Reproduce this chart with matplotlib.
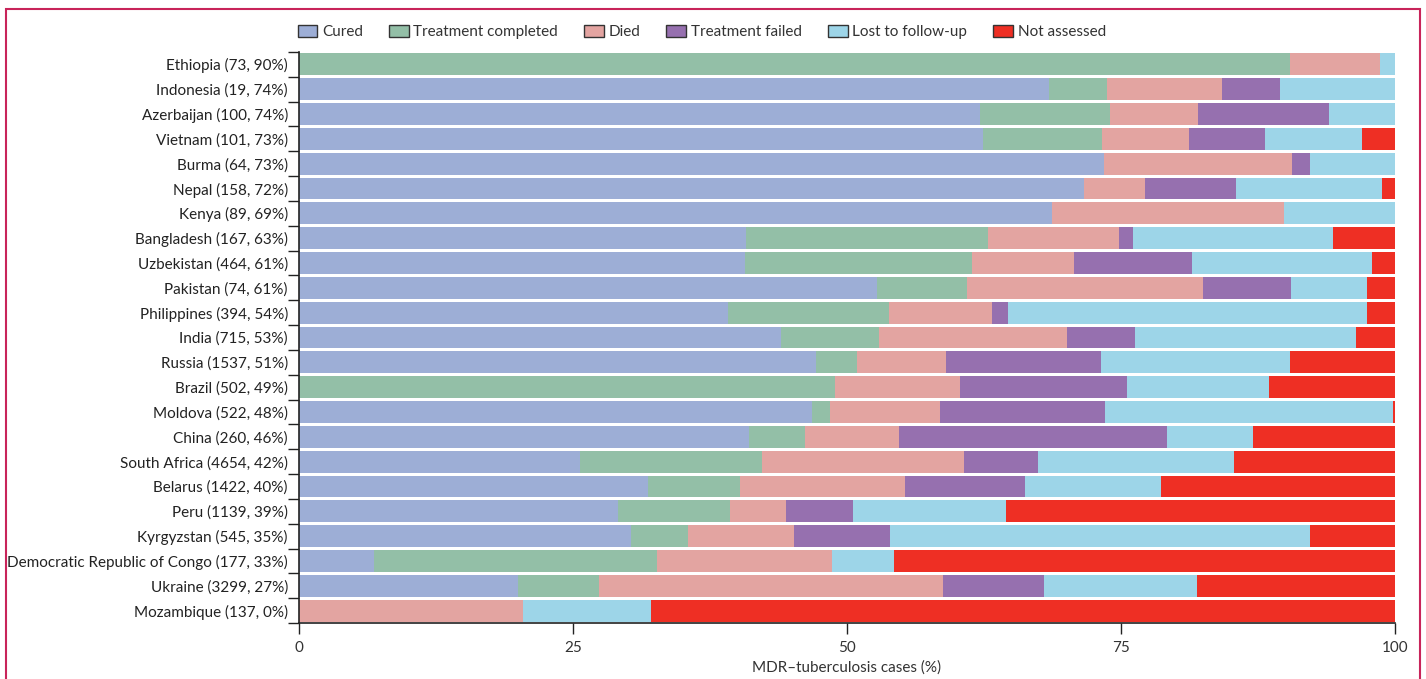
import matplotlib
matplotlib.use("Agg")
import matplotlib.pyplot as plt
from matplotlib.patches import Rectangle
import numpy as np

plt.rcParams['font.family'] = ['Lato', 'DejaVu Sans']

countries = ["Ethiopia (73, 90%)", "Indonesia (19, 74%)", "Azerbaijan (100, 74%)", "Vietnam (101, 73%)",
             "Burma (64, 73%)", "Nepal (158, 72%)", "Kenya (89, 69%)", "Bangladesh (167, 63%)",
             "Uzbekistan (464, 61%)", "Pakistan (74, 61%)", "Philippines (394, 54%)", "India (715, 53%)",
             "Russia (1537, 51%)", "Brazil (502, 49%)", "Moldova (522, 48%)", "China (260, 46%)",
             "South Africa (4654, 42%)", "Belarus (1422, 40%)", "Peru (1139, 39%)", "Kyrgyzstan (545, 35%)",
             "Democratic Republic of Congo (177, 33%)", "Ukraine (3299, 27%)", "Mozambique (137, 0%)"]

# cumulative boundaries: cured, +completed, +died, +failed, +lost, (rest = not assessed)
cum_cured     = [0.0, 68.4, 62.1, 62.4, 73.4, 71.6, 68.7, 40.8, 40.7, 52.7, 39.1, 44.0, 47.2, 0.0, 46.8, 41.1, 25.6, 31.8, 29.1, 30.3, 6.8, 20.0, 0.0]
cum_completed = [90.4, 73.7, 74.0, 73.3, 73.4, 71.6, 68.7, 62.9, 61.4, 60.9, 53.8, 52.9, 50.9, 48.9, 48.4, 46.2, 42.2, 40.2, 39.3, 35.5, 32.7, 27.4, 0.0]
cum_died      = [98.6, 84.2, 82.0, 81.2, 90.6, 77.2, 89.9, 74.8, 70.7, 82.5, 63.2, 70.1, 59.0, 60.3, 58.5, 54.7, 60.7, 55.3, 44.4, 45.2, 48.6, 58.8, 20.4]
cum_failed    = [98.6, 89.5, 94.0, 88.1, 92.2, 85.5, 89.9, 76.1, 81.5, 90.5, 64.7, 76.3, 73.2, 75.5, 73.5, 79.2, 67.4, 66.2, 50.5, 53.9, 48.6, 68.0, 20.4]
cum_lost      = [100.0, 100.0, 100.0, 97.0, 100.0, 98.8, 100.0, 94.3, 97.9, 97.4, 97.4, 96.4, 90.4, 88.5, 99.8, 87.0, 85.3, 78.6, 64.5, 92.2, 54.3, 81.9, 32.1]

cured = np.array(cum_cured)
completed = np.array(cum_completed) - np.array(cum_cured)
died = np.array(cum_died) - np.array(cum_completed)
failed = np.array(cum_failed) - np.array(cum_died)
lost = np.array(cum_lost) - np.array(cum_failed)
notassessed = 100 - np.array(cum_lost)

series = [("Cured", cured, "#9daed6"),
          ("Treatment completed", completed, "#93bfa7"),
          ("Died", died, "#e3a4a1"),
          ("Treatment failed", failed, "#9670af"),
          ("Lost to follow-up", lost, "#9dd5e8"),
          ("Not assessed", notassessed, "#ee2f24")]

fig = plt.figure(figsize=(14.26, 6.79), dpi=100)
ax = fig.add_axes([0.2097, 1 - 623 / 679, 0.7686, 571 / 679])

y = np.arange(len(countries))
left = np.zeros(len(countries))
for name, vals, col in series:
    ax.barh(y, vals, left=left, height=0.88, color=col, label=name, linewidth=0)
    left = left + vals

ax.set_ylim(len(countries) - 0.5, -0.5)
ax.set_xlim(0, 100)
ax.set_yticks(y)
ax.set_yticklabels(countries, fontsize=11, color="#222222")
ax.tick_params(axis='y', length=0, pad=8)
ax.set_yticks(np.arange(-0.5, len(countries) - 0.4, 1), minor=True)
ax.tick_params(axis='y', which='minor', length=8, width=1, color="#222222")
ax.set_xticks([0, 25, 50, 75, 100])
ax.tick_params(axis='x', length=8, width=1, labelsize=11, color="#222222", labelcolor="#333333", pad=5)
ax.set_xlabel("MDR–tuberculosis cases (%)", fontsize=11, color="#333333", labelpad=4)
for s in ['top', 'right']:
    ax.spines[s].set_visible(False)
for s in ['left', 'bottom']:
    ax.spines[s].set_linewidth(1.2)
    ax.spines[s].set_color("#222222")

handles = [Rectangle((0, 0), 1, 1, facecolor=c, edgecolor="#333333", linewidth=1) for _, _, c in series]
fig.legend(handles, [n for n, _, _ in series], loc='center left', bbox_to_anchor=(0.199, 0.953),
           ncol=6, frameon=False, fontsize=11, handlelength=1.3, handleheight=0.8,
           columnspacing=1.7, handletextpad=0.3, labelcolor="#333333")

border = Rectangle((6 / 1426, -0.1), (1420 - 6) / 1426, 1.1 - 9 / 679, transform=fig.transFigure,
                   fill=False, edgecolor="#c8245a", linewidth=1.5)
fig.patches.append(border)

fig.savefig("out.png", dpi=100)
